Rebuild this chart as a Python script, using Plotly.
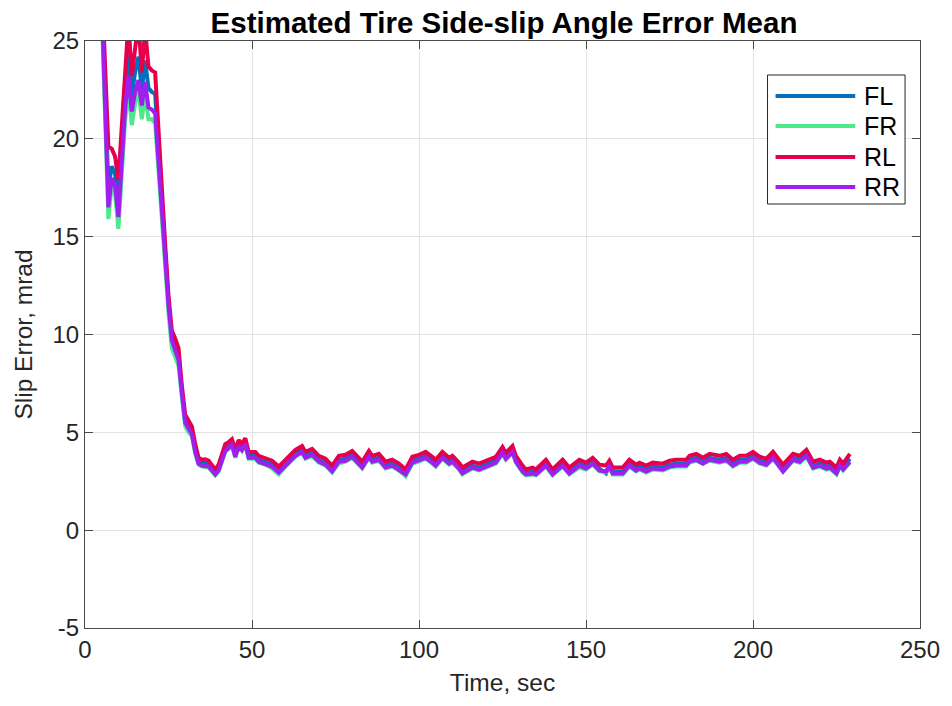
import plotly.graph_objects as go

# Time stamps (s) of the logged mean slip-angle errors
time_s = [
    5, 6, 7, 8, 9, 10, 11, 12, 13, 14, 15, 16, 17, 18, 19, 20, 21, 22, 23, 24,
    25, 26, 27, 28, 29, 30, 31, 32, 33, 34,
    35, 36, 37, 38, 39, 40, 41, 42, 43, 44, 45, 46, 47, 48, 49,
    51, 52, 54, 56, 58, 60,
    63, 65, 66, 68, 70, 72, 74, 76, 78, 80,
    82, 83, 85, 86, 88, 90, 92, 94, 96, 98,
    100, 102, 104, 105, 107, 109, 110, 112, 113, 115,
    116, 118, 120, 121, 123, 125, 126, 128, 129, 131,
    132, 134, 135, 138, 140, 143, 145, 148, 150, 152,
    154, 156, 157, 158, 161, 163, 165, 166, 168, 170,
    173, 175, 177, 180, 181, 183, 185, 187, 190, 192,
    194, 196, 198, 200, 202, 204, 206, 209, 211, 212,
    214, 216, 218, 220, 222, 223, 225, 226, 227, 229,
]

# Mean slip error per tire, mrad
err_fl = [
    27.5, 22.0, 17.5, 18.6, 18.2, 16.9, 19.6, 22.5, 24.3, 22.2, 23.4, 24.2, 22.5, 24.0, 22.6, 22.4, 22.3, 19.5, 16.6, 14.2,
    11.6, 9.9, 9.4, 8.9, 7.1, 5.6, 5.3, 5.0, 4.1, 3.5,
    3.45, 3.45, 3.4, 3.2, 2.95, 3.2, 3.7, 4.2, 4.3, 4.45, 3.9, 4.4, 4.2, 4.5, 3.8,
    3.8, 3.6, 3.5, 3.35, 3.05, 3.4,
    3.9, 4.1, 3.8, 3.95, 3.6, 3.45, 3.1, 3.6, 3.65, 3.85,
    3.5, 3.3, 3.85, 3.6, 3.7, 3.3, 3.4, 3.2, 2.9, 3.55,
    3.65, 3.8, 3.55, 3.4, 3.8, 3.5, 3.6, 3.25, 3.0, 3.2,
    3.3, 3.2, 3.35, 3.45, 3.55, 4.05, 3.75, 4.1, 3.6, 3.1,
    2.9, 3.0, 2.9, 3.4, 2.9, 3.4, 3.0, 3.4, 3.25, 3.5,
    3.15, 2.9, 3.35, 3.0, 3.0, 3.4, 3.15, 3.25, 3.1, 3.25,
    3.2, 3.35, 3.4, 3.4, 3.6, 3.7, 3.5, 3.7, 3.6, 3.7,
    3.4, 3.6, 3.6, 3.8, 3.55, 3.45, 3.8, 3.15, 3.5, 3.7,
    3.6, 3.9, 3.3, 3.4, 3.25, 3.3, 3.0, 3.4, 3.2, 3.65,
]
err_fr = [
    26.5, 20.5, 15.9, 17.6, 17.2, 15.4, 18.2, 20.9, 22.6, 20.7, 21.8, 22.5, 21.0, 22.3, 21.0, 21.0, 20.8, 18.2, 15.9, 13.6,
    11.1, 9.3, 8.8, 8.4, 6.8, 5.3, 5.0, 4.8, 3.9, 3.35,
    3.25, 3.25, 3.2, 3.0, 2.8, 3.0, 3.5, 4.0, 4.15, 4.3, 3.7, 4.25, 4.05, 4.35, 3.65,
    3.65, 3.45, 3.35, 3.15, 2.85, 3.25,
    3.75, 3.95, 3.65, 3.8, 3.45, 3.3, 2.95, 3.4, 3.5, 3.7,
    3.35, 3.15, 3.7, 3.45, 3.55, 3.15, 3.25, 3.05, 2.75, 3.4,
    3.5, 3.65, 3.4, 3.25, 3.65, 3.35, 3.45, 3.1, 2.85, 3.05,
    3.15, 3.05, 3.2, 3.3, 3.4, 3.9, 3.6, 3.95, 3.45, 2.95,
    2.8, 2.85, 2.8, 3.25, 2.8, 3.25, 2.85, 3.2, 3.1, 3.35,
    3.0, 2.95, 3.2, 2.85, 2.85, 3.25, 3.0, 3.1, 2.95, 3.1,
    3.05, 3.2, 3.25, 3.25, 3.45, 3.55, 3.4, 3.55, 3.45, 3.55,
    3.25, 3.45, 3.45, 3.65, 3.4, 3.3, 3.65, 3.0, 3.35, 3.55,
    3.45, 3.75, 3.15, 3.25, 3.1, 3.15, 2.85, 3.25, 3.05, 3.45,
]
err_rl = [
    28.0, 23.5, 19.6, 19.5, 19.1, 17.9, 20.6, 23.6, 26.0, 23.2, 24.6, 26.0, 23.4, 25.6, 23.7, 23.5, 23.4, 20.3, 17.0, 14.6,
    12.0, 10.2, 9.8, 9.3, 7.4, 5.9, 5.6, 5.3, 4.4, 3.7,
    3.6, 3.62, 3.55, 3.35, 3.1, 3.35, 3.9, 4.4, 4.5, 4.65, 4.1, 4.6, 4.4, 4.7, 4.0,
    4.0, 3.8, 3.7, 3.55, 3.25, 3.6,
    4.1, 4.3, 4.0, 4.15, 3.8, 3.65, 3.3, 3.8, 3.85, 4.05,
    3.7, 3.5, 4.05, 3.8, 3.9, 3.5, 3.6, 3.4, 3.1, 3.75,
    3.85, 4.0, 3.75, 3.6, 4.0, 3.7, 3.8, 3.45, 3.2, 3.4,
    3.5, 3.4, 3.55, 3.65, 3.75, 4.25, 3.95, 4.3, 3.8, 3.3,
    3.1, 3.2, 3.1, 3.6, 3.1, 3.6, 3.2, 3.6, 3.45, 3.7,
    3.35, 3.3, 3.55, 3.2, 3.2, 3.6, 3.35, 3.45, 3.3, 3.45,
    3.4, 3.55, 3.6, 3.6, 3.8, 3.9, 3.7, 3.9, 3.8, 3.9,
    3.6, 3.8, 3.8, 4.0, 3.75, 3.65, 4.0, 3.35, 3.7, 3.9,
    3.8, 4.1, 3.5, 3.6, 3.45, 3.5, 3.2, 3.6, 3.4, 3.9,
]
err_rr = [
    27.0, 21.0, 16.5, 18.0, 17.6, 16.0, 18.8, 21.5, 23.2, 21.4, 22.4, 23.0, 21.7, 22.9, 21.6, 21.5, 21.3, 18.8, 16.4, 14.0,
    11.5, 9.7, 9.2, 8.7, 7.0, 5.5, 5.2, 4.9, 4.0, 3.4,
    3.3, 3.3, 3.25, 3.05, 2.85, 3.05, 3.55, 4.05, 4.2, 4.35, 3.75, 4.3, 4.1, 4.4, 3.7,
    3.7, 3.5, 3.4, 3.25, 2.95, 3.3,
    3.8, 4.0, 3.7, 3.85, 3.5, 3.35, 3.0, 3.5, 3.55, 3.75,
    3.4, 3.2, 3.75, 3.5, 3.6, 3.2, 3.3, 3.1, 2.85, 3.45,
    3.55, 3.7, 3.45, 3.3, 3.7, 3.4, 3.5, 3.15, 2.9, 3.1,
    3.2, 3.1, 3.25, 3.35, 3.45, 3.95, 3.65, 4.0, 3.5, 3.0,
    2.85, 2.9, 2.85, 3.3, 2.85, 3.3, 2.9, 3.3, 3.15, 3.4,
    3.05, 3.0, 3.25, 2.9, 2.9, 3.3, 3.05, 3.15, 3.0, 3.15,
    3.1, 3.25, 3.3, 3.3, 3.5, 3.6, 3.4, 3.6, 3.5, 3.6,
    3.3, 3.5, 3.5, 3.7, 3.45, 3.35, 3.7, 3.0, 3.4, 3.6,
    3.5, 3.8, 3.2, 3.3, 3.15, 3.2, 2.9, 3.3, 3.1, 3.5,
]

series_names = ["FL", "FR", "RL", "RR"]
series_values = [err_fl, err_fr, err_rl, err_rr]
series_colors = ["#0072BD", "#4CE88A", "#E6004B", "#A01EEF"]

x_ticks = [0, 50, 100, 150, 200, 250]
y_ticks = [-5, 0, 5, 10, 15, 20, 25]
y_tick_text = ["-5", "0", "5", "10", "15", "20", "25"]

FONT = "Liberation Sans, Arial, sans-serif"
INK = "#262626"

fig = go.Figure()
for name, vals, color in zip(series_names, series_values, series_colors):
    fig.add_trace(go.Scatter(
        x=time_s, y=vals, mode="lines", name=name,
        line=dict(color=color, width=4), showlegend=False,
    ))

axis_common = dict(
    showline=True, linecolor="#4a4a4a", linewidth=1, mirror="allticks",
    ticks="inside", ticklen=8, tickcolor="#4a4a4a", tickwidth=1,
    showgrid=True, gridcolor="#e3e3e3", gridwidth=1,
    zeroline=False,
    tickfont=dict(family=FONT, size=24, color=INK),
)

# Boxed legend with long line samples, placed in the upper-right of the axes
leg_x0, leg_x1 = 0.8174, 0.9821
leg_y0, leg_y1 = 0.7223, 0.9421
sample_x0, sample_x1 = 0.8270, 0.9224
label_x = 0.9308
row_y = [0.9063, 0.8552, 0.8024, 0.7513]

shapes = [dict(
    type="rect", xref="paper", yref="paper",
    x0=leg_x0, x1=leg_x1, y0=leg_y0, y1=leg_y1,
    line=dict(color=INK, width=1), fillcolor="white", layer="above",
)]
annotations = []
for name, color, ry in zip(series_names, series_colors, row_y):
    shapes.append(dict(
        type="line", xref="paper", yref="paper",
        x0=sample_x0, x1=sample_x1, y0=ry, y1=ry,
        line=dict(color=color, width=4), layer="above",
    ))
    annotations.append(dict(
        xref="paper", yref="paper", x=label_x, y=ry,
        xanchor="left", yanchor="middle", showarrow=False,
        text=name, font=dict(family=FONT, size=25, color="black"),
    ))

fig.update_layout(
    width=952, height=706,
    margin=dict(l=85, r=29, t=41, b=78),
    paper_bgcolor="white", plot_bgcolor="white",
    title=dict(
        text="<b>Estimated Tire Side-slip Angle Error Mean</b>",
        font=dict(family=FONT, size=29.5, color="black"),
        x=0.5294, xanchor="center", y=0.968, yanchor="middle",
    ),
    xaxis=dict(
        range=[0, 250], tickvals=x_ticks,
        title=dict(text="Time, sec", font=dict(family=FONT, size=24.5, color=INK), standoff=12),
        **axis_common,
    ),
    yaxis=dict(
        range=[-5, 25], tickvals=y_ticks, ticktext=y_tick_text,
        title=dict(text="Slip Error, mrad", font=dict(family=FONT, size=24.5, color=INK), standoff=12),
        **axis_common,
    ),
    shapes=shapes,
    annotations=annotations,
    showlegend=False,
)

fig.write_html("out.html")
